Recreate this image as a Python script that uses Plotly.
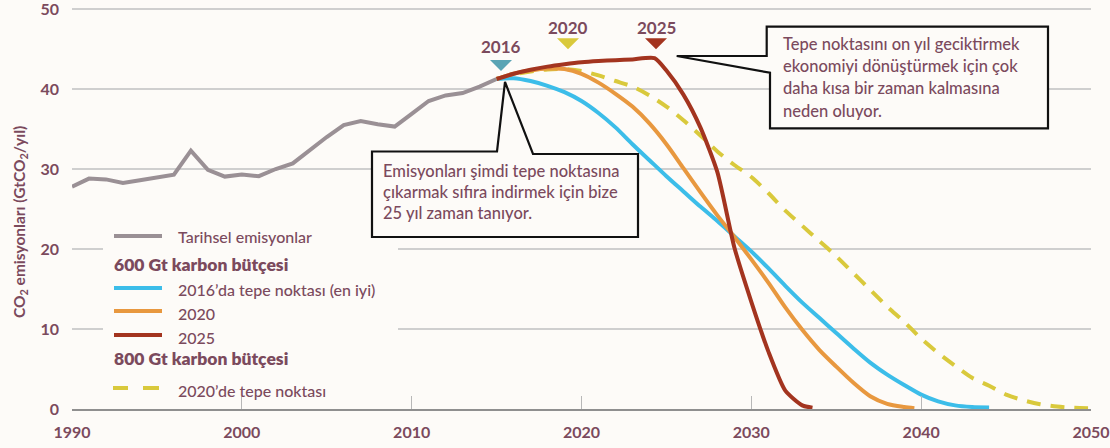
import plotly.graph_objects as go

# ---------------- data ----------------
hist_years = list(range(1990, 2016))
hist_values = [27.8, 28.8, 28.7, 28.25, 28.6, 28.95, 29.3, 32.3, 29.9, 29.05,
               29.3, 29.1, 30.0, 30.7, 32.4, 34.0, 35.5, 36.0, 35.6, 35.3,
               36.9, 38.5, 39.2, 39.5, 40.3, 41.25]

peak2016_years = list(range(2015, 2045))
peak2016_values = [41.25, 41.35, 41.0, 40.4, 39.6, 38.5, 37.0, 35.2, 33.1, 31.1,
                   29.1, 27.2, 25.3, 23.5, 21.6, 19.7, 17.6, 15.4, 13.3, 11.4,
                   9.5, 7.6, 5.8, 4.3, 3.0, 1.8, 0.95, 0.45, 0.25, 0.2]

peak2020_years = list(range(2015, 2040)) + [2039.6]
peak2020_values = [41.25, 41.9, 42.3, 42.55, 42.5, 41.9, 40.8, 39.4, 37.8, 35.7,
                   33.1, 30.1, 27.1, 24.2, 21.5, 18.7, 15.8, 12.7, 9.9, 7.4,
                   5.3, 3.3, 1.6, 0.65, 0.25, 0.1]

peak2025_years = [2015, 2016, 2017, 2018, 2019, 2020, 2021, 2022, 2023, 2024.3,
                  2025, 2026, 2027, 2028, 2029, 2030, 2031, 2032, 2033, 2033.6]
peak2025_values = [41.25, 41.9, 42.4, 42.8, 43.1, 43.35, 43.5, 43.6, 43.7, 43.85,
                   42.3, 39.3, 35.2, 29.6, 20.2, 13.4, 7.2, 2.3, 0.45, 0.15]

b800_years = list(range(2015, 2051))
b800_values = [41.25, 41.8, 42.2, 42.45, 42.5, 42.25, 41.7, 41.0, 40.3, 39.2,
               37.8, 36.1, 34.2, 32.2, 30.5, 29.0, 27.0, 24.8, 22.9, 21.0,
               19.1, 17.0, 14.9, 12.8, 10.9, 8.8, 7.0, 5.4, 3.9, 2.9,
               1.8, 1.1, 0.6, 0.3, 0.15, 0.1]

x_ticks = [1990, 2000, 2010, 2020, 2030, 2040, 2050]
y_ticks = [0, 10, 20, 30, 40, 50]

legend_labels = ["Tarihsel emisyonlar", "600 Gt karbon bütçesi",
                 "2016’da tepe noktası (en iyi)", "2020", "2025",
                 "800 Gt karbon bütçesi", "2020’de tepe noktası"]
peak_labels = ["2016", "2020", "2025"]
note_left = ["Emisyonları şimdi tepe noktasına",
             "çıkarmak sıfıra indirmek için bize",
             "25 yıl zaman tanıyor."]
note_right = ["Tepe noktasını on yıl geciktirmek",
              "ekonomiyi dönüştürmek için çok",
              "daha kısa bir zaman kalmasına",
              "neden oluyor."]
y_title = "CO<sub>2</sub> emisyonları (GtCO<sub>2</sub>/yıl)"

# ---------------- style ----------------
BG = "#fdfbf8"
TXT = "#7b4a5d"
FONT = "Lato, 'Open Sans', sans-serif"
FONT_MED = "'Lato Medium', Lato, 'Open Sans', sans-serif"
C_HIST = "#9a9095"
C_BLUE = "#3cbde9"
C_ORANGE = "#e8983f"
C_RED = "#a3341f"
C_YELLOW = "#d9c93c"
C_TEAL = "#5aa4b4"

W, H = 1110, 448
L, R, T, B = 72, 19, 6, 39
X0, X1 = 1990, 2050
Y0, Y1 = 0, 50 + 3 / 8          # a few px of headroom so the 50 grid line shows
PW, PH = W - L - R, H - T - B


def X(px):
    return X0 + (px - L) * (X1 - X0) / PW


def Y(py):
    return Y0 + (H - B - py) * (Y1 - Y0) / PH


def PX(px):
    return (px - L) / PW


def PY(py):
    return (H - B - py) / PH


def path(points):
    return "M " + " L ".join(f"{X(a):.4f},{Y(b):.4f}" for a, b in points) + " Z"


fig = go.Figure()

fig.add_trace(go.Scatter(x=hist_years, y=hist_values, mode="lines",
                         line=dict(color=C_HIST, width=4), showlegend=False,
                         name=legend_labels[0]))
fig.add_trace(go.Scatter(x=b800_years, y=b800_values, mode="lines",
                         line=dict(color=C_YELLOW, width=4, dash="14px,10px",
                                   shape="spline", smoothing=0.8),
                         showlegend=False, name=legend_labels[6]))
fig.add_trace(go.Scatter(x=peak2016_years, y=peak2016_values, mode="lines",
                         line=dict(color=C_BLUE, width=4, shape="spline", smoothing=0.8),
                         showlegend=False, name=legend_labels[2]))
fig.add_trace(go.Scatter(x=peak2020_years, y=peak2020_values, mode="lines",
                         line=dict(color=C_ORANGE, width=4, shape="spline", smoothing=0.8),
                         showlegend=False, name=legend_labels[3]))
fig.add_trace(go.Scatter(x=peak2025_years, y=peak2025_values, mode="lines",
                         line=dict(color=C_RED, width=4, shape="spline", smoothing=0.6),
                         showlegend=False, name=legend_labels[4]))

shapes = []
annotations = []

# legend background (hides gridlines)
shapes.append(dict(type="rect", xref="x", yref="y", x0=X(103), x1=X(398),
                   y0=Y(368), y1=Y(222), fillcolor=BG, line=dict(width=0),
                   layer="between"))

leg_rows = [  # (line y, text y, color, dashed, label index, is_title)
    (236, 236, C_HIST, False, 0, False),
    (None, 264, None, False, 1, True),
    (288, 289, C_BLUE, False, 2, False),
    (311, 313, C_ORANGE, False, 3, False),
    (335, 337, C_RED, False, 4, False),
    (None, 358, None, False, 5, True),
    (388, 390, C_YELLOW, True, 6, False),
]
for ly, ty, col, dashed, idx, title in leg_rows:
    if title:
        annotations.append(dict(xref="x", yref="y", x=X(112), y=Y(ty),
                                xanchor="left", yanchor="middle", showarrow=False,
                                text=legend_labels[idx],
                                font=dict(size=17.5, color=TXT, family=FONT, weight=800)))
    else:
        if dashed:
            for a, b in [(113, 128), (143, 159)]:
                shapes.append(dict(type="line", xref="x", yref="y", x0=X(a), x1=X(b),
                                   y0=Y(ly), y1=Y(ly), line=dict(color=col, width=4)))
        else:
            shapes.append(dict(type="line", xref="x", yref="y", x0=X(114), x1=X(162),
                               y0=Y(ly), y1=Y(ly), line=dict(color=col, width=4)))
        annotations.append(dict(xref="x", yref="y", x=X(176), y=Y(ty),
                                xanchor="left", yanchor="middle", showarrow=False,
                                text=legend_labels[idx],
                                font=dict(size=16, color=TXT, family=FONT_MED, weight=500)))

# callout boxes
shapes.append(dict(type="path", xref="x", yref="y", layer="above",
                   path=path([(372, 151.5), (497, 151.5), (505, 82), (533, 154),
                              (638, 154), (638, 237), (372, 237)]),
                   fillcolor=BG, line=dict(color="#111111", width=2.2)))
shapes.append(dict(type="path", xref="x", yref="y", layer="above",
                   path=path([(676.7, 56), (766.7, 56), (766.7, 26.7), (1048, 26.7),
                              (1048, 128.3), (770, 128.3), (770, 72.7)]),
                   fillcolor=BG, line=dict(color="#111111", width=2.2)))

for i, line in enumerate(note_left):
    annotations.append(dict(xref="x", yref="y", x=X(381), y=Y(171 + 21 * i),
                            xanchor="left", yanchor="middle", showarrow=False,
                            text=line,
                            font=dict(size=16.5, color=TXT, family=FONT_MED, weight=500)))
for i, line in enumerate(note_right):
    annotations.append(dict(xref="x", yref="y", x=X(781), y=Y(44 + 22.2 * i),
                            xanchor="left", yanchor="middle", showarrow=False,
                            text=line,
                            font=dict(size=16.5, color=TXT, family=FONT_MED, weight=500)))

# peak markers
peak_marks = [(501, 60, C_TEAL, 46), (568, 38.3, C_YELLOW, 27.5), (656, 38.3, C_RED, 27.5)]
for (px, py, col, ty), lab in zip(peak_marks, peak_labels):
    shapes.append(dict(type="path", xref="x", yref="y", xsizemode="pixel",
                       ysizemode="pixel", xanchor=X(px), yanchor=Y(py),
                       path="M -11,0 L 11,0 L 0,-11 Z", fillcolor=col,
                       line=dict(width=0), layer="above"))
    annotations.append(dict(xref="x", yref="y", x=X(px), y=Y(ty), showarrow=False,
                            xanchor="center", yanchor="middle", text=lab,
                            font=dict(size=17, color=TXT, family=FONT, weight="bold")))

# y axis title
annotations.append(dict(xref="paper", yref="paper", x=PX(20), y=PY(222),
                        textangle=-90, showarrow=False, xanchor="center",
                        yanchor="middle", text=y_title,
                        font=dict(size=15.5, color=TXT, family=FONT, weight="bold")))

fig.update_layout(
    width=W, height=H,
    margin=dict(l=L, r=R, t=T, b=B, pad=0, autoexpand=False),
    paper_bgcolor=BG, plot_bgcolor=BG,
    font=dict(family=FONT, color=TXT),
    showlegend=False,
    shapes=shapes, annotations=annotations,
    xaxis=dict(range=[X0, X1], tickvals=x_ticks, ticktext=[str(v) for v in x_ticks],
               automargin=False, ticklabeloverflow="allow",
               showgrid=False, zeroline=False, showline=True, linecolor="#8f8f8f",
               linewidth=2, ticks="inside", ticklen=13, tickcolor="#b8b8b8",
               tickwidth=1, ticklabelstandoff=8,
               tickfont=dict(size=16, color=TXT, family=FONT, weight="bold")),
    yaxis=dict(range=[Y0, Y1], tickvals=y_ticks, showgrid=True, gridcolor="#cfcfcf",
               automargin=False, ticklabeloverflow="allow",
               gridwidth=1.5, zeroline=False, showline=False, ticks="",
               ticklabelstandoff=12,
               tickfont=dict(size=16, color=TXT, family=FONT, weight="bold")),
)

post = (
    "document.documentElement.style.margin='0';"
    "document.body.style.margin='0';"
    "document.body.style.overflow='hidden';"
    "document.body.style.background='" + BG + "';"
)

fig.write_html("out.html", config={"displayModeBar": False}, post_script=post)
